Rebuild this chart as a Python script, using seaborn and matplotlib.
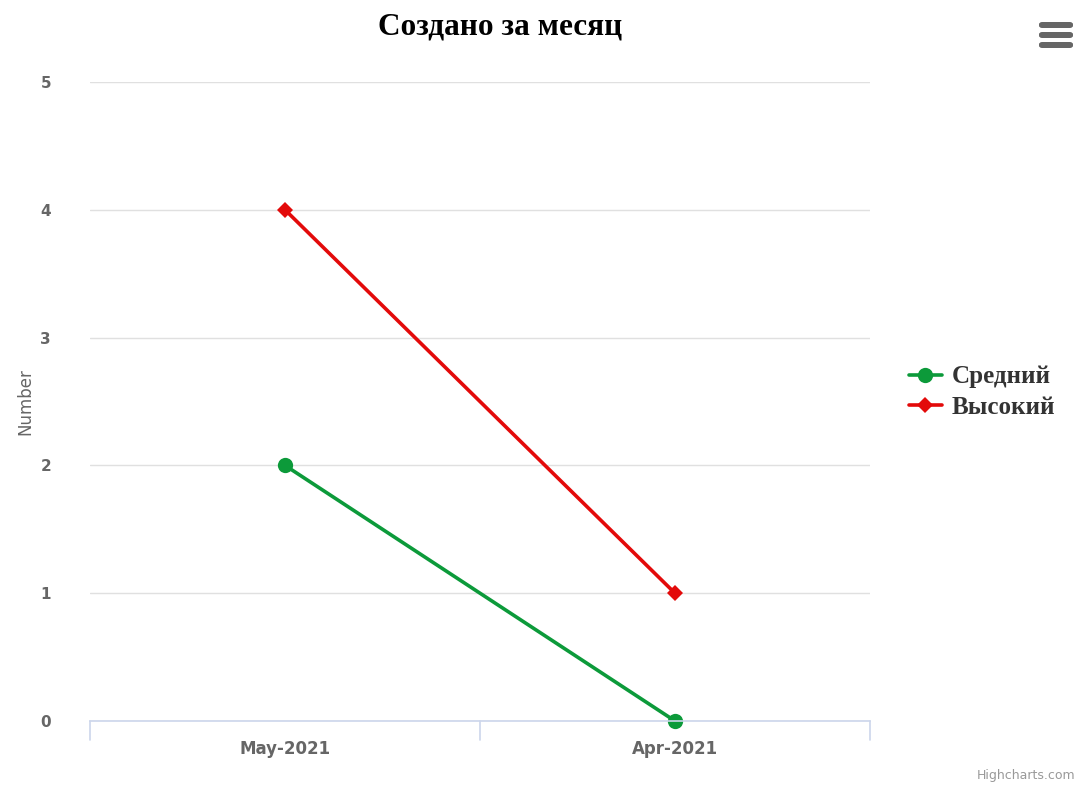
import matplotlib
matplotlib.use("Agg")
import matplotlib.pyplot as plt
import pandas as pd
import seaborn as sns
from matplotlib.lines import Line2D
from matplotlib.patches import FancyBboxPatch

# data
months = ["May-2021", "Apr-2021"]
series_names = ["Средний", "Высокий"]
medium = [2, 0]
high = [4, 1]

colors = {"Средний": "#0c9a3a", "Высокий": "#e30a0a"}
markers = {"Средний": "o", "Высокий": "D"}
msize = {"Средний": 11, "Высокий": 8}

df = pd.DataFrame({
    "month": months * 2,
    "x": list(range(len(months))) * 2,
    "series": [series_names[0]] * len(months) + [series_names[1]] * len(months),
    "value": medium + high,
})

sns.set_style("white")
plt.rcParams["font.family"] = ["DejaVu Sans"]

fig = plt.figure(figsize=(10.79, 7.87), dpi=100)
ax = fig.add_axes([90 / 1079, 66 / 787, 780 / 1079, 639 / 787])

sns.lineplot(
    data=df, x="x", y="value", hue="series", style="series",
    palette=colors, markers=markers, dashes=False,
    linewidth=2.6, markersize=11, markeredgewidth=0,
    legend=False, ax=ax,
)
for ln in ax.get_lines():
    ln.set_clip_on(False)
    if ln.get_marker() == "D":
        ln.set_markersize(msize["Высокий"])

ax.set_xlim(-0.5, len(months) - 0.5)
ax.set_ylim(0, 5)
ax.set_yticks(range(0, 6))
ax.set_xticks(range(len(months)))
ax.set_xticklabels(months)

ax.grid(axis="y", color="#e0e0e0", linewidth=1)
ax.grid(axis="x", visible=False)
for side in ["top", "right", "left"]:
    ax.spines[side].set_visible(False)
ax.spines["bottom"].set_color("#ccd6eb")
ax.spines["bottom"].set_linewidth(1.2)

label_font = ["Liberation Sans Narrow", "DejaVu Sans"]
ax.tick_params(axis="y", length=0, pad=28, labelsize=11, labelcolor="#666666")
ax.tick_params(axis="x", length=0, pad=14, labelsize=12, labelcolor="#666666")
for t in ax.get_yticklabels() + ax.get_xticklabels():
    t.set_family(label_font)
    t.set_fontweight("bold")

# category boundary ticks, as Highcharts draws them
for b in [-0.5, 0.5, 1.5]:
    ax.plot([b, b], [0, -0.15], color="#ccd6eb", linewidth=1.2, clip_on=False)

ax.set_xlabel("")
ax.set_ylabel("Number", fontsize=12, color="#666666", family=label_font)
ax.yaxis.set_label_coords(-56 / 780, 0.5)

fig.text(500 / 1079, 1 - 27 / 787, "Создано за месяц", ha="center", va="center",
         fontsize=22.5, fontweight="bold", color="black",
         family=["Liberation Serif", "DejaVu Serif"])

handles = [
    Line2D([], [], color=colors[s], linewidth=2.6, marker=markers[s],
           markersize=msize[s], markeredgewidth=0)
    for s in series_names
]
leg = fig.legend(handles, series_names, loc="center left",
                 bbox_to_anchor=(909 / 1079, 1 - 392 / 787), frameon=False,
                 borderpad=0, borderaxespad=0,
                 handlelength=1.3, handletextpad=0.4, labelspacing=0.3,
                 prop={"family": ["Liberation Serif", "DejaVu Serif"],
                       "weight": "bold", "size": 18})
for t in leg.get_texts():
    t.set_color("#333333")

fig.text(1075 / 1079, 1 - 775 / 787, "Highcharts.com", ha="right", va="center",
         fontsize=9, color="#999999", family=label_font)

# context menu icon
for yy in [25, 35, 45]:
    fig.add_artist(FancyBboxPatch((1039 / 1079, 1 - (yy + 3) / 787), 34 / 1079, 6 / 787,
                                  boxstyle="round,pad=0,rounding_size=0.003",
                                  transform=fig.transFigure, color="#666666", lw=0))

fig.savefig("out.png", dpi=100)
